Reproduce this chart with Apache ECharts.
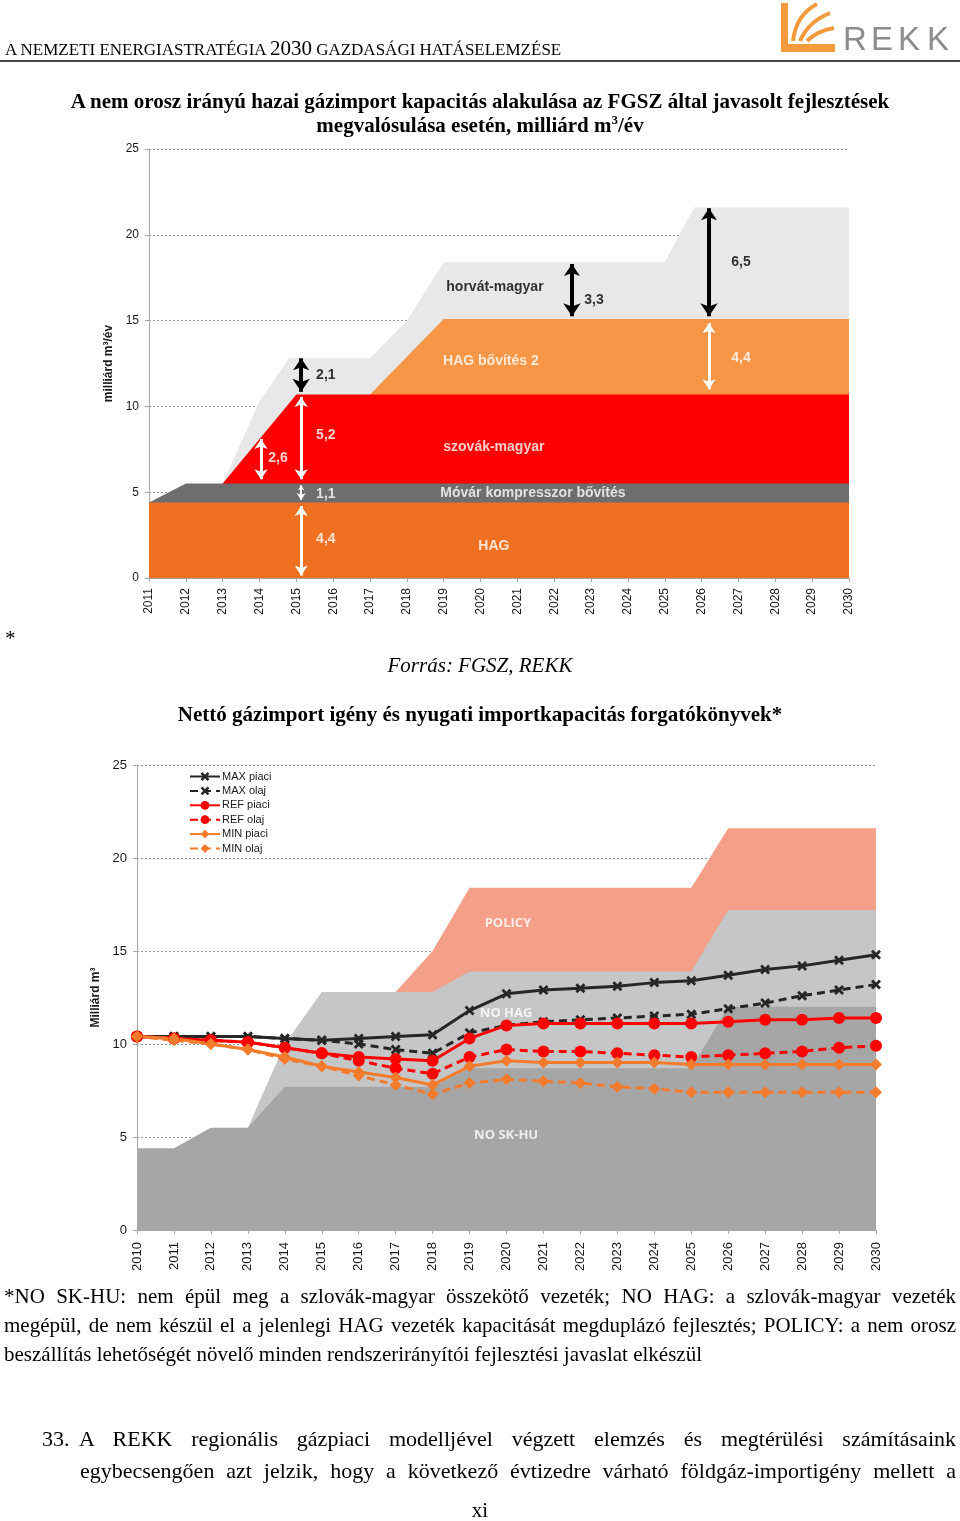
<!DOCTYPE html>
<html>
<head>
<meta charset="utf-8">
<script src="https://cdn.jsdelivr.net/npm/echarts@6/dist/echarts.min.js"></script>
<style>
  html, body { margin:0; padding:0; background:#fff; }
  #page { position:relative; width:960px; height:1521px; overflow:hidden; }
  #chart { position:absolute; left:0; top:0; width:960px; height:1521px; z-index:1; }
  .t { position:absolute; z-index:2; font-family:"Liberation Serif","Times New Roman",serif; color:#000; white-space:nowrap; }
  .j { text-align:justify; text-align-last:justify; white-space:normal; }
</style>
</head>
<body>
<div id="page">
  <div id="chart"></div>

  <div class="t" style="left:5px;top:38px;font-size:17px;line-height:20px;">A NEMZETI ENERGIASTRATÉGIA <span style="font-size:21px;">2030</span> GAZDASÁGI HATÁSELEMZÉSE</div>
  <div style="position:absolute;left:0;top:60px;width:960px;height:2px;background:#4a4a4a;z-index:2;"></div>

  <div class="t" style="left:0;top:89px;width:960px;text-align:center;font-weight:bold;font-size:21px;line-height:24px;">A nem orosz irányú hazai gázimport kapacitás alakulása az FGSZ által javasolt fejlesztések<br>megvalósulása esetén, milliárd m<span style="font-size:13px;vertical-align:8px;line-height:0;">3</span>/év</div>

  <div class="t" style="left:5px;top:627px;font-size:21px;line-height:22px;">*</div>
  <div class="t" style="left:0;top:653px;width:960px;text-align:center;font-style:italic;font-size:21px;line-height:24px;">Forrás: FGSZ, REKK</div>
  <div class="t" style="left:0;top:702px;width:960px;text-align:center;font-weight:bold;font-size:21px;line-height:24px;">Nettó gázimport igény és nyugati importkapacitás forgatókönyvek*</div>

  <div class="t j" style="left:4px;top:1282px;width:952px;font-size:21px;line-height:29px;">*NO SK-HU: nem épül meg a szlovák-magyar összekötő vezeték; NO HAG: a szlovák-magyar vezeték</div>
  <div class="t j" style="left:4px;top:1311px;width:952px;font-size:21px;line-height:29px;">megépül, de nem készül el a jelenlegi HAG vezeték kapacitását megduplázó fejlesztés; POLICY: a nem orosz</div>
  <div class="t" style="left:4px;top:1340px;width:952px;font-size:21px;line-height:29px;">beszállítás lehetőségét növelő minden rendszerirányítói fejlesztési javaslat elkészül</div>

  <div class="t" style="left:42px;top:1423px;font-size:22px;line-height:32px;">33.</div>
  <div class="t j" style="left:79px;top:1423px;width:877px;font-size:22px;line-height:32px;">A REKK regionális gázpiaci modelljével végzett elemzés és megtérülési számításaink</div>
  <div class="t j" style="left:80px;top:1455px;width:876px;font-size:22px;line-height:32px;">egybecsengően azt jelzik, hogy a következő évtizedre várható földgáz-importigény mellett a</div>

  <div class="t" style="left:0;top:1500px;width:960px;text-align:center;font-size:21px;line-height:21px;">xi</div>
</div>

<script>
// ---------- Top chart: cumulative upper boundaries of each band [year, value] ----------
const hagTop      = [[2011,4.4],[2030,4.4]];
const movarTop    = [[2011,4.4],[2012,5.5],[2030,5.5]];
const szlovakTop  = [[2013,5.5],[2014,8.1],[2015,10.7],[2030,10.7]];
const hag2Top     = [[2017,10.7],[2018,12.9],[2019,15.1],[2030,15.1]];
const horvatTop   = [[2013,5.5],[2014,10.3],[2014.8,12.8],[2017,12.8],[2018,15.0],[2019,18.4],[2025,18.4],[2025.8,21.6],[2030,21.6]];

// arrows: [year, from, to]
const blackArrows = [[2015.13,10.85,12.8],[2022.48,15.25,18.3],[2026.2,15.25,21.55]];
const whiteArrows = [[2014.04,5.75,8.1],[2015.13,5.75,10.55],[2015.13,0.15,4.2],[2026.2,11.0,14.85]];
const smallArrows = [[2015.13,4.55,5.4]];

// annotation texts of the top chart: [text, year, value, colour]
const topLabels = [
  ['2,6',2014.5,6.99,'#fff'],['5,2',2015.8,8.33,'#fff'],['2,1',2015.8,11.83,'#000'],
  ['1,1',2015.8,4.9,'#fff'],['4,4',2015.8,2.27,'#fff'],['3,3',2023.08,16.2,'#000'],
  ['6,5',2027.07,18.41,'#000'],['4,4',2027.07,12.82,'#fff'],
  ['horvát-magyar',2020.39,16.96,'#000'],['HAG bővítés 2',2020.28,12.65,'#fff'],
  ['szovák-magyar',2020.36,7.63,'#fff'],['Móvár kompresszor bővítés',2021.42,4.95,'#fff'],
  ['HAG',2020.36,1.86,'#fff']
];

// ---------- Bottom chart ----------
const years = [2010,2011,2012,2013,2014,2015,2016,2017,2018,2019,2020,2021,2022,2023,2024,2025,2026,2027,2028,2029,2030];
const maxPiaci = [10.4,10.4,10.4,10.4,10.3,10.2,10.3,10.4,10.5,11.8,12.7,12.9,13.0,13.1,13.3,13.4,13.7,14.0,14.2,14.5,14.8];
const maxOlaj  = [10.4,10.4,10.4,10.4,10.3,10.2,10.0,9.7,9.5,10.6,11.0,11.2,11.3,11.4,11.5,11.6,11.9,12.2,12.6,12.9,13.2];
const refPiaci = [10.4,10.3,10.2,10.1,9.8,9.5,9.3,9.2,9.1,10.3,11.0,11.1,11.1,11.1,11.1,11.1,11.2,11.3,11.3,11.4,11.4];
const refOlaj  = [10.4,10.3,10.2,10.1,9.8,9.5,9.1,8.7,8.4,9.3,9.7,9.6,9.6,9.5,9.4,9.3,9.4,9.5,9.6,9.8,9.9];
const minPiaci = [10.4,10.3,10.0,9.7,9.3,8.8,8.5,8.2,7.8,8.8,9.1,9.0,9.0,9.0,9.0,8.9,8.9,8.9,8.9,8.9,8.9];
const minOlaj  = [10.4,10.2,10.0,9.7,9.2,8.8,8.3,7.8,7.3,7.9,8.1,8.0,7.9,7.7,7.6,7.4,7.4,7.4,7.4,7.4,7.4];

const noSkHuTop = [[2010,4.4],[2011,4.4],[2012,5.5],[2013,5.5],[2014,7.7],[2018,7.7],[2019,8.7],[2025,8.7],[2026,12.0],[2030,12.0]];
const noHagTop  = [[2013,5.5],[2014,10.0],[2015,12.8],[2018,12.8],[2019,13.9],[2025,13.9],[2026,17.2],[2030,17.2]];
const policyTop = [[2017,12.8],[2018,15.0],[2019,18.4],[2025,18.4],[2026,21.6],[2030,21.6]];

const bottomLabels = [['POLICY',2020.04,16.5],['NO HAG',2019.99,11.67],['NO SK-HU',2019.99,5.11]];

// ---------- build ----------
const SANS = '"Liberation Sans", Arial, sans-serif';
const XMARK = 'path://M2,0 L5,3 L8,0 L10,2 L7,5 L10,8 L8,10 L5,7 L2,10 L0,8 L3,5 L0,2 Z';
const LOGO = '#F39A3C';

function area(data, color, gi) {
  return { type:'line', xAxisIndex:gi, yAxisIndex:gi, data, symbol:'none', silent:true,
           lineStyle:{width:0}, areaStyle:{color, opacity:1}, z:2 };
}
function arrows(list, color, w, s) {
  return { type:'lines', coordinateSystem:'cartesian2d', xAxisIndex:0, yAxisIndex:0, silent:true,
           symbol:['arrow','arrow'], symbolSize:s, z:5,
           lineStyle:{color, width:w, opacity:1, curveness:0},
           data: list.map(a => ({coords:[[a[0],a[1]],[a[0],a[2]]]})) };
}
function labels(list, gi, font, defColor, size) {
  return { type:'scatter', xAxisIndex:gi, yAxisIndex:gi, symbolSize:0, silent:true, z:6,
           data: list.map(l => ({name:l[0], value:[l[1],l[2]], label:{color:l[3]||defColor}})),
           label:{show:true, position:'inside', formatter:'{b}', fontWeight:'bold', fontSize:size, fontFamily:font} };
}
function scen(name, arr, color, dashed, symbol, size) {
  return { name, type:'line', xAxisIndex:1, yAxisIndex:1, z:4,
           data: years.map((y,i)=>[y,arr[i]]),
           symbol, symbolSize:size, showAllSymbol:true,
           itemStyle:{color}, lineStyle:{color, width:3, type: dashed ? [8,5] : 'solid'} };
}

function xAxis(gi, min, size, margin) {
  return { gridIndex:gi, type:'value', min, max:2030, interval:1,
    axisLine:{lineStyle:{color:'#a6a6a6'}}, axisTick:{show:true, length:4, lineStyle:{color:'#a6a6a6'}},
    splitLine:{show:false},
    axisLabel:{rotate:90, fontSize:size, color:'#1a1a1a', fontFamily:SANS, margin, formatter:v=>String(v)} };
}
function yAxis(gi, name, size, gap, nameSize) {
  return { gridIndex:gi, type:'value', min:0, max:25, interval:5,
    axisLine:{show:true, lineStyle:{color:'#a6a6a6'}}, axisTick:{show:true, length:4, lineStyle:{color:'#a6a6a6'}},
    splitLine:{show:true, lineStyle:{color:'#9a9a9a', type:[2,2], width:1}},
    axisLabel:{fontSize:size, color:'#1a1a1a', fontFamily:SANS, margin:10},
    name, nameLocation:'middle', nameGap:gap, nameRotate:90,
    nameTextStyle:{fontWeight:'bold', fontSize:nameSize, fontFamily:SANS, color:'#1a1a1a'} };
}

const chart = echarts.init(document.getElementById('chart'), null, {renderer:'canvas'});
chart.setOption({
  animation:false,
  backgroundColor:'transparent',
  grid:[
    {left:149, top:149, width:700, height:429},
    {left:137, top:765, width:739, height:465}
  ],
  xAxis:[ xAxis(0,2011,12,10), xAxis(1,2010,13,12) ],
  yAxis:[ yAxis(0,'milliárd m³/év',12,28,12), yAxis(1,'Milliárd m³',13,35,12) ],
  legend:{
    data:['MAX piaci','MAX olaj','REF piaci','REF olaj','MIN piaci','MIN olaj'],
    orient:'vertical', left:189, top:771, padding:0,
    itemWidth:30, itemHeight:11, itemGap:3.4,
    textStyle:{fontSize:11, fontFamily:SANS, color:'#1a1a1a', padding:[0,0,0,-3]}
  },
  graphic:[
    {type:'polygon', shape:{points:[[781,3],[788,3],[788,44],[835,44],[835,52],[781,52]]}, style:{fill:LOGO}},
    {type:'bezierCurve', shape:{x1:793,y1:41,cpx1:796,cpy1:15,x2:817,y2:4}, style:{stroke:LOGO, lineWidth:4, fill:null}},
    {type:'bezierCurve', shape:{x1:800,y1:41,cpx1:808,cpy1:22,x2:830,y2:13}, style:{stroke:LOGO, lineWidth:4, fill:null}},
    {type:'bezierCurve', shape:{x1:807,y1:41,cpx1:817,cpy1:31,x2:834,y2:28}, style:{stroke:LOGO, lineWidth:4, fill:null}},
    {type:'text', x:843, y:41, style:{text:'R', fontSize:33, fontFamily:SANS, fill:'#8C8C8C', verticalAlign:'middle'}},
    {type:'text', x:871, y:41, style:{text:'E', fontSize:33, fontFamily:SANS, fill:'#8C8C8C', verticalAlign:'middle'}},
    {type:'text', x:898, y:41, style:{text:'K', fontSize:33, fontFamily:SANS, fill:'#8C8C8C', verticalAlign:'middle'}},
    {type:'text', x:927, y:41, style:{text:'K', fontSize:33, fontFamily:SANS, fill:'#8C8C8C', verticalAlign:'middle'}}
  ],
  series:[
    area(horvatTop,'#E8E8E8',0),
    area(hag2Top,'#F79646',0),
    area(szlovakTop,'#FF0000',0),
    area(movarTop,'#6E6E6E',0),
    area(hagTop,'#F07022',0),
    arrows(blackArrows,'#000',4,[13,12]),
    arrows(whiteArrows,'#fff',3,[10,10]),
    arrows(smallArrows,'#fff',2,[7,5]),
    labels(topLabels,0,SANS,'#fff',14),

    area(policyTop,'#F4A088',1),
    area(noHagTop,'#C5C6C8',1),
    area(noSkHuTop,'#A6A6A6',1),
    labels(bottomLabels,1,'"Open Sans", '+SANS,'#fff',13),
    scen('MAX piaci',maxPiaci,'#262626',false,XMARK,10),
    scen('MAX olaj',maxOlaj,'#262626',true,XMARK,10),
    scen('REF piaci',refPiaci,'#FF0000',false,'circle',12),
    scen('REF olaj',refOlaj,'#FF0000',true,'circle',12),
    scen('MIN piaci',minPiaci,'#F47B2C',false,'diamond',12),
    scen('MIN olaj',minOlaj,'#F47B2C',true,'diamond',12)
  ]
});
</script>
</body>
</html>
